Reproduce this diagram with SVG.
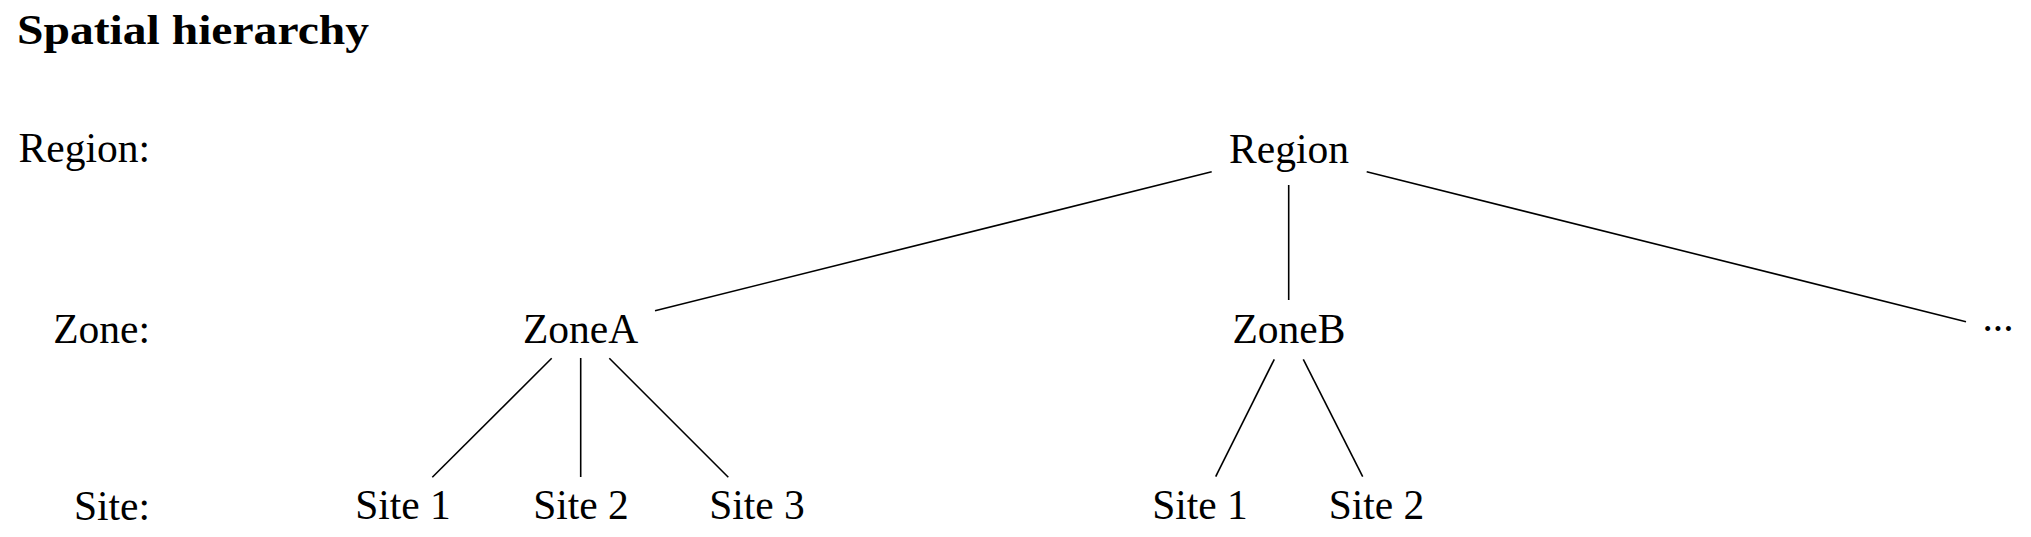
<svg xmlns="http://www.w3.org/2000/svg" width="2031" height="537" viewBox="0 0 2031 537">
<style>
text { font-family: "Liberation Serif", "Times New Roman", serif; font-size: 41.5px; fill: #000; }
.title { font-weight: bold; font-size: 42px; }
.lbl { text-anchor: end; }
.node text { text-anchor: middle; }
.edges line { stroke: #000; stroke-width: 1.6; fill: none; }
</style>
<rect x="0" y="0" width="2031" height="537" fill="#fff"/>
<text class="title" x="17" y="44" textLength="352" lengthAdjust="spacingAndGlyphs">Spatial hierarchy</text>
<g id="level-labels">
<text class="lbl" x="150" y="162">Region:</text>
<text class="lbl" x="150" y="343">Zone:</text>
<text class="lbl" x="150" y="520">Site:</text>
</g>
<g class="edges" id="connectors">
<line x1="1211.7" y1="171.7" x2="655" y2="310.7"/>
<line x1="1288.7" y1="185" x2="1288.7" y2="300"/>
<line x1="1366.7" y1="171.7" x2="1966" y2="321.7"/>
<line x1="551.7" y1="358.3" x2="432.3" y2="477.3"/>
<line x1="580.7" y1="358" x2="580.7" y2="477"/>
<line x1="609.3" y1="358.3" x2="728.3" y2="477.3"/>
<line x1="1274.3" y1="359.3" x2="1215.7" y2="476.7"/>
<line x1="1303.3" y1="359.3" x2="1362.7" y2="476.7"/>
</g>
<g class="node" id="region"><text x="1289" y="163">Region</text></g>
<g class="node" id="zoneA"><text x="580.5" y="343">ZoneA</text></g>
<g class="node" id="zoneB"><text x="1289" y="343">ZoneB</text></g>
<g class="node" id="more"><text x="1998" y="331">...</text></g>
<g class="node" id="zoneA-site1"><text x="403" y="519">Site 1</text></g>
<g class="node" id="zoneA-site2"><text x="581" y="519">Site 2</text></g>
<g class="node" id="zoneA-site3"><text x="757" y="519">Site 3</text></g>
<g class="node" id="zoneB-site1"><text x="1200" y="519">Site 1</text></g>
<g class="node" id="zoneB-site2"><text x="1376.5" y="519">Site 2</text></g>
</svg>
